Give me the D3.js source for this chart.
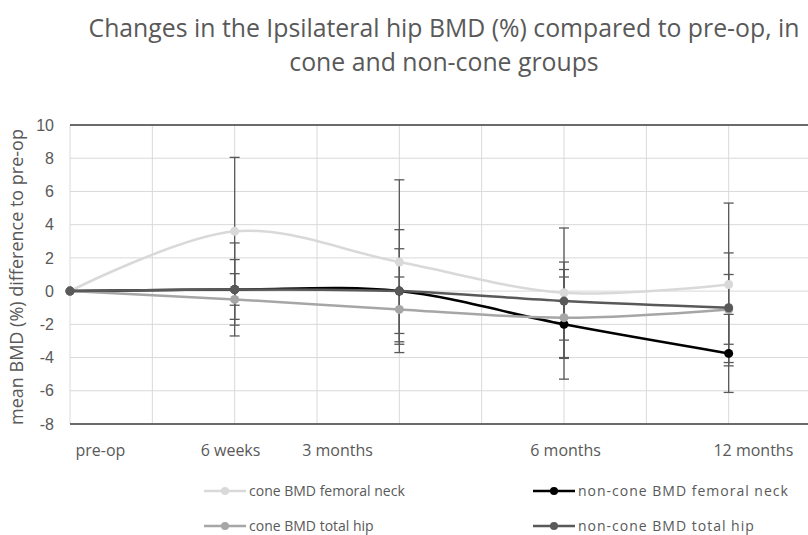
<!DOCTYPE html>
<html>
<head>
<meta charset="utf-8">
<script src="https://cdn.jsdelivr.net/npm/d3@7"></script>
<style>
  body { margin: 0; background: #fff; }
  svg { font-family: "Open Sans", sans-serif; }
</style>
</head>
<body>
<svg id="chart" width="808" height="535"></svg>
<script>
// ---- data ----
const timeLabels = ['pre-op', '6 weeks', '3 months', '6 months', '12 months'];
const timeX = [0, 2, 4, 6, 8];            // position of each visit on the x scale
const labelX = [0.37, 1.95, 3.25, 6.02, 8.3]; // where the text labels sit
const yTicks = [-8, -6, -4, -2, 0, 2, 4, 6, 8, 10];

const seriesNames = ['cone BMD femoral neck', 'non-cone BMD femoral neck', 'cone BMD total hip', 'non-cone BMD total hip'];
const coneNeck = [0, 3.6, 1.75, -0.1, 0.4];
const coneNeckErr = [0, 4.45, 4.95, 3.9, 4.9];
const nonConeNeck = [0, 0.1, 0, -2.0, -3.75];
const nonConeNeckErr = [0, 2.8, 3.7, 3.3, 2.35];
const coneHip = [0, -0.5, -1.1, -1.6, -1.1];
const coneHipErr = [0, 1.55, 1.95, 2.45, 2.1];
const nonConeHip = [0, 0.1, 0, -0.6, -1.0];
const nonConeHipErr = [0, 1.8, 2.55, 2.35, 3.3];
const seriesColors = ['#d9d9d9', '#000000', '#a6a6a6', '#595959'];

const series = [
  { name: seriesNames[0], values: coneNeck, err: coneNeckErr, color: seriesColors[0] },
  { name: seriesNames[1], values: nonConeNeck, err: nonConeNeckErr, color: seriesColors[1] },
  { name: seriesNames[2], values: coneHip, err: coneHipErr, color: seriesColors[2] },
  { name: seriesNames[3], values: nonConeHip, err: nonConeHipErr, color: seriesColors[3] },
];

const svg = d3.select('#chart');
const textColor = '#595959';

const plot = { left: 70, right: 811, top: 125, bottom: 424 };
const x = d3.scaleLinear().domain([0, 9]).range([plot.left, plot.right]);
const y = d3.scaleLinear().domain([-8, 10]).range([plot.bottom, plot.top]);

// Title
svg.append('text')
  .attr('x', 444).attr('y', 37)
  .attr('text-anchor', 'middle')
  .attr('fill', textColor)
  .attr('font-size', '24.8px')
  .text('Changes in the  Ipsilateral hip BMD (%) compared to pre-op, in');
svg.append('text')
  .attr('x', 444).attr('y', 71)
  .attr('text-anchor', 'middle')
  .attr('fill', textColor)
  .attr('font-size', '24.8px')
  .text('cone and non-cone groups');

// Grid
const grid = svg.append('g');
grid.selectAll('line.v')
  .data(d3.range(0, 10))
  .join('line')
  .attr('x1', d => x(d)).attr('x2', d => x(d))
  .attr('y1', plot.top).attr('y2', plot.bottom)
  .attr('stroke', '#d9d9d9').attr('stroke-width', 1);
grid.selectAll('line.h')
  .data(yTicks)
  .join('line')
  .attr('x1', plot.left).attr('x2', plot.right)
  .attr('y1', d => y(d)).attr('y2', d => y(d))
  .attr('stroke', '#d9d9d9').attr('stroke-width', 1);

// top and bottom borders
[10, -8].forEach(v => {
  svg.append('line')
    .attr('x1', plot.left).attr('x2', plot.right)
    .attr('y1', y(v)).attr('y2', y(v))
    .attr('stroke', '#404040').attr('stroke-width', 1.5);
});

// Y axis labels
const yAxis = d3.axisLeft(y).tickValues(yTicks).tickSize(0).tickPadding(16)
  .tickFormat(d => String(d));
svg.append('g')
  .attr('transform', `translate(${plot.left},0)`)
  .call(yAxis)
  .call(g => g.select('.domain').remove())
  .call(g => g.selectAll('text')
    .attr('fill', textColor)
    .attr('font-size', '16px')
    .attr('font-family', 'inherit'));

svg.append('text')
  .attr('transform', 'translate(23,277) rotate(-90)')
  .attr('text-anchor', 'middle')
  .attr('fill', textColor)
  .attr('font-size', '18px')
  .text('mean BMD (%) difference to pre-op');

// X category labels
svg.append('g').selectAll('text')
  .data(timeLabels)
  .join('text')
  .attr('x', (d, i) => x(labelX[i]))
  .attr('y', 456)
  .attr('text-anchor', 'middle')
  .attr('fill', textColor)
  .attr('font-size', '16px')
  .text(d => d);

// Error bars
const capW = 5;
const errG = svg.append('g');
series.forEach(s => {
  s.values.forEach((v, i) => {
    const e = s.err[i];
    if (!e) return;
    const cx = x(timeX[i]);
    errG.append('line')
      .attr('x1', cx).attr('x2', cx)
      .attr('y1', y(v + e)).attr('y2', y(v - e))
      .attr('stroke', '#595959').attr('stroke-width', 1.3);
    [v + e, v - e].forEach(t => {
      errG.append('line')
        .attr('x1', cx - capW).attr('x2', cx + capW)
        .attr('y1', y(t)).attr('y2', y(t))
        .attr('stroke', '#595959').attr('stroke-width', 1.3);
    });
  });
});

// Lines + markers
const line = d3.line()
  .x((d, i) => x(timeX[i]))
  .y(d => y(d))
  .curve(d3.curveCardinal.tension(0));

series.forEach(s => {
  svg.append('path')
    .datum(s.values)
    .attr('d', line)
    .attr('fill', 'none')
    .attr('stroke', s.color)
    .attr('stroke-width', 2.5);
  svg.append('g').selectAll('circle')
    .data(s.values)
    .join('circle')
    .attr('cx', (d, i) => x(timeX[i]))
    .attr('cy', d => y(d))
    .attr('r', 4.5)
    .attr('fill', s.color);
});

// Legend (two columns, right column set a bit wider like the original)
const legendPos = [[204, 491], [533, 491], [204, 526], [533, 526]];
series.forEach((s, i) => {
  const [lx, ly] = legendPos[i];
  const g = svg.append('g').attr('transform', `translate(${lx},${ly})`);
  g.append('line')
    .attr('x1', 0).attr('x2', 42)
    .attr('stroke', s.color).attr('stroke-width', 2.5);
  g.append('circle').attr('cx', 21).attr('r', 4).attr('fill', s.color);
  g.append('text')
    .attr('x', 45).attr('y', 5)
    .attr('fill', textColor)
    .attr('font-size', '14px')
    .attr('letter-spacing', i % 2 ? '1px' : '0px')
    .text(s.name);
});
</script>
</body>
</html>
